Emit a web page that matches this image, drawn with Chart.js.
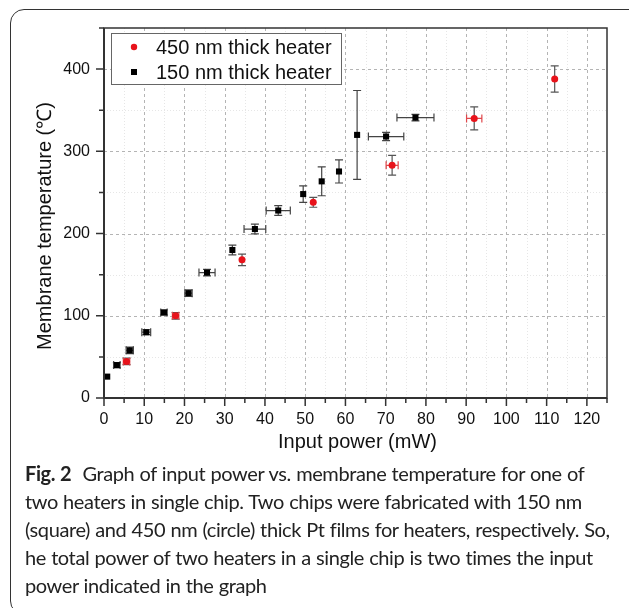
<!DOCTYPE html>
<html>
<head>
<meta charset="utf-8">
<title>Input power vs. membrane temperature</title>
<script src="https://cdn.jsdelivr.net/npm/chart.js@4.4.0/dist/chart.umd.min.js"></script>
<style>
  html, body { margin: 0; padding: 0; background: #fff; }
  body { width: 629px; height: 608px; position: relative; overflow: hidden; }
  .frame {
    position: absolute; left: 10px; top: 9px; width: 640px; height: 606px;
    border: 1.5px solid #333; border-radius: 14px; box-sizing: border-box;
  }
  .chart-wrap { position: absolute; left: 0; top: 0; width: 629px; height: 460px; }
  .caption {
    position: absolute; left: 25px; top: 459px;
    font-family: "Lato", "Open Sans", sans-serif; font-size: 20px; line-height: 28px;
    letter-spacing: -0.4px; word-spacing: 0.5px;
    color: #222; white-space: nowrap;
  }
  .caption b { font-weight: 700; margin-right: 6px; }
</style>
</head>
<body>
<div class="frame"></div>
<div class="chart-wrap"><canvas id="heaterChart" width="629" height="460"></canvas></div>
<div class="caption">
  <b>Fig. 2</b> Graph of input power vs. membrane temperature for one of<br>
  two heaters in single chip. Two chips were fabricated with 150 nm<br>
  (square) and 450 nm (circle) thick Pt films for heaters, respectively. So,<br>
  he total power of two heaters in a single chip is two times the input<br>
  power indicated in the graph
</div>
<script>
// ---- data ----
const power150    = [0.8, 3.2, 6.4, 10.5, 14.9, 21.0, 25.6, 31.9, 37.5, 43.3, 49.5, 54.1, 58.4, 62.9, 70.1, 77.4];
const temp150     = [26, 40, 58, 80, 104, 127.5, 152.5, 180, 205.5, 228, 248, 263.5, 275.5, 320, 318, 341];
const powerErr150 = [0, 0.8, 0.9, 1.1, 0.8, 0.9, 2.0, 0, 2.7, 3.0, 0, 0, 0, 0, 4.4, 4.6];
const tempErr150  = [0, 3, 4, 3, 3, 4, 4, 6, 6, 6, 10, 17.5, 14, 54, 5, 4];

const power450    = [5.6, 17.8, 34.3, 52.0, 71.6, 92.0, 112.0];
const temp450     = [44.5, 100, 168, 238, 283, 340, 388];
const powerErr450 = [0.8, 0.8, 0, 0, 1.5, 1.9, 0];
const tempErr450  = [4, 4, 7, 6, 12, 14, 16];

const xTickValues = [0, 5, 10, 15, 20, 25, 30, 35, 40, 45, 50, 55, 60, 65, 70, 75, 80, 85, 90, 95, 100, 105, 110, 115, 120, 125];
const yTickValues = [0, 50, 100, 150, 200, 250, 300, 350, 400, 450];
const xLabelled   = [0, 10, 20, 30, 40, 50, 60, 70, 80, 90, 100, 110, 120];
const yLabelled   = [0, 100, 200, 300, 400];

const AXIS_FONT = '"Liberation Sans", Arial, sans-serif';

function toPoints(xs, ys) {
    return xs.map((x, i) => ({ x: x, y: ys[i] }));
}

// 目盛り内側のグリッド（主：破線／副：薄い点線）＋凡例＋誤差棒
const gridPlugin = {
    id: "originGrid",
    beforeDatasetsDraw(chart) {
        const { ctx, chartArea: a, scales: { x, y } } = chart;
        ctx.save();
        ctx.lineWidth = 1;
        xTickValues.forEach(v => {
            if (v === 0 || v === 125) return;
            const major = xLabelled.includes(v);
            const px = Math.round(x.getPixelForValue(v)) + 0.5;
            ctx.strokeStyle = major ? "#b4b4b4" : "#e6e6e6";
            ctx.setLineDash(major ? [3, 3] : [1, 2]);
            ctx.beginPath(); ctx.moveTo(px, a.top); ctx.lineTo(px, a.bottom); ctx.stroke();
        });
        yTickValues.forEach(v => {
            if (v === 0 || v === 450) return;
            const major = yLabelled.includes(v);
            const py = Math.round(y.getPixelForValue(v)) + 0.5;
            ctx.strokeStyle = major ? "#b4b4b4" : "#e6e6e6";
            ctx.setLineDash(major ? [3, 3] : [1, 2]);
            ctx.beginPath(); ctx.moveTo(a.left, py); ctx.lineTo(a.right, py); ctx.stroke();
        });
        ctx.restore();

        // legend box (inside plot, top-left)
        const lx = a.left + 7, ly = a.top + 5, lw = 230, lh = 51;
        ctx.save();
        ctx.fillStyle = "#fff";
        ctx.fillRect(lx, ly, lw, lh);
        ctx.strokeStyle = "#666";
        ctx.lineWidth = 1;
        ctx.strokeRect(lx + 0.5, ly + 0.5, lw, lh);
        ctx.font = "20px " + AXIS_FONT;
        ctx.textBaseline = "middle";
        ctx.fillStyle = "#111";
        chart.data.datasets.forEach((ds, i) => {
            const cy = ly + 14 + i * 25;
            ctx.save();
            ctx.fillStyle = ds.backgroundColor;
            if (ds.pointStyle === "rect") {
                ctx.fillRect(lx + 20, cy - 3, 6, 6);
            } else {
                ctx.beginPath(); ctx.arc(lx + 23, cy, 3.2, 0, Math.PI * 2); ctx.fill();
            }
            ctx.restore();
            ctx.fillText(ds.label, lx + 45, cy + 1);
        });
        ctx.restore();

        // error bars, drawn under the markers
        chart.data.datasets.forEach(ds => {
            ctx.save();
            ctx.lineWidth = 1.2;
            ds.data.forEach((p, i) => {
                const px = x.getPixelForValue(p.x), py = y.getPixelForValue(p.y);
                const ye = ds.yErr[i], xe = ds.xErr[i];
                if (ye > 0) {
                    const t = y.getPixelForValue(p.y + ye), b = y.getPixelForValue(p.y - ye);
                    ctx.strokeStyle = ds.yErrColor;
                    ctx.beginPath();
                    ctx.moveTo(px, t); ctx.lineTo(px, b);
                    ctx.moveTo(px - 4, t); ctx.lineTo(px + 4, t);
                    ctx.moveTo(px - 4, b); ctx.lineTo(px + 4, b);
                    ctx.stroke();
                }
                if (xe > 0) {
                    const l = x.getPixelForValue(p.x - xe), r = x.getPixelForValue(p.x + xe);
                    ctx.strokeStyle = ds.xErrColor;
                    ctx.beginPath();
                    ctx.moveTo(l, py); ctx.lineTo(r, py);
                    ctx.moveTo(l, py - 4); ctx.lineTo(l, py + 4);
                    ctx.moveTo(r, py - 4); ctx.lineTo(r, py + 4);
                    ctx.stroke();
                }
            });
            ctx.restore();
        });
    },
    afterDraw(chart) {
        const { ctx, chartArea: a, scales: { x, y } } = chart;
        ctx.save();
        // plot frame
        ctx.strokeStyle = "#333";
        ctx.lineWidth = 1.5;
        ctx.strokeRect(a.left, a.top, a.right - a.left, a.bottom - a.top);
        ctx.lineWidth = 2;
        ctx.beginPath();
        ctx.moveTo(a.left, a.top); ctx.lineTo(a.left, a.bottom); ctx.lineTo(a.right, a.bottom);
        ctx.stroke();
        // outward tick marks
        ctx.lineWidth = 1.5;
        ctx.beginPath();
        xTickValues.forEach(v => {
            const px = x.getPixelForValue(v);
            const len = xLabelled.includes(v) ? 8 : 5;
            ctx.moveTo(px, a.bottom); ctx.lineTo(px, a.bottom + len);
        });
        yTickValues.forEach(v => {
            const py = y.getPixelForValue(v);
            const len = yLabelled.includes(v) ? 8 : 5;
            ctx.moveTo(a.left, py); ctx.lineTo(a.left - len, py);
        });
        ctx.stroke();
        // axis titles
        ctx.fillStyle = "#111";
        ctx.font = "20px " + AXIS_FONT;
        ctx.textAlign = "center";
        ctx.textBaseline = "middle";
        ctx.fillText("Input power (mW)", (a.left + a.right) / 2 + 2, 442);
        ctx.translate(45, 226);
        ctx.rotate(-Math.PI / 2);
        ctx.fillText("Membrane temperature (\u2103)", 0, 0);
        ctx.restore();
    }
};

const canvas = document.getElementById("heaterChart");
new Chart(canvas.getContext("2d"), {
    type: "scatter",
    data: {
        datasets: [
            {
                label: "450 nm thick heater",
                data: toPoints(power450, temp450),
                pointStyle: "circle",
                pointRadius: 3.5,
                borderWidth: 0,
                backgroundColor: "#e8131b",
                borderColor: "#e8131b",
                xErr: powerErr450, yErr: tempErr450,
                xErrColor: "#e0484c", yErrColor: "#555"
            },
            {
                label: "150 nm thick heater",
                data: toPoints(power150, temp150),
                pointStyle: "rect",
                pointRadius: 4.3,
                borderWidth: 0,
                backgroundColor: "#000",
                borderColor: "#000",
                xErr: powerErr150, yErr: tempErr150,
                xErrColor: "#444", yErrColor: "#444"
            }
        ]
    },
    options: {
        responsive: false,
        animation: false,
        devicePixelRatio: 1,
        layout: { padding: { left: 0, right: 22, top: 28, bottom: 0 } },
        plugins: { legend: { display: false }, tooltip: { enabled: false } },
        scales: {
            x: {
                type: "linear", min: 0, max: 125,
                afterBuildTicks: s => { s.ticks = xTickValues.map(v => ({ value: v })); },
                afterFit: s => { s.height = 62; },
                ticks: {
                    autoSkip: false, maxRotation: 0, padding: 12, color: "#111",
                    font: { family: AXIS_FONT, size: 16 },
                    callback: v => (xLabelled.includes(v) ? String(v) : "")
                },
                grid: { drawOnChartArea: false, drawTicks: false },
                border: { display: false }
            },
            y: {
                type: "linear", min: 0, max: 450,
                afterBuildTicks: s => { s.ticks = yTickValues.map(v => ({ value: v })); },
                afterFit: s => { s.width = 104; },
                ticks: {
                    autoSkip: false, padding: 14, color: "#111",
                    font: { family: AXIS_FONT, size: 16 },
                    callback: v => (yLabelled.includes(v) ? String(v) : "")
                },
                grid: { drawOnChartArea: false, drawTicks: false },
                border: { display: false }
            }
        }
    },
    plugins: [gridPlugin]
});
</script>
</body>
</html>
